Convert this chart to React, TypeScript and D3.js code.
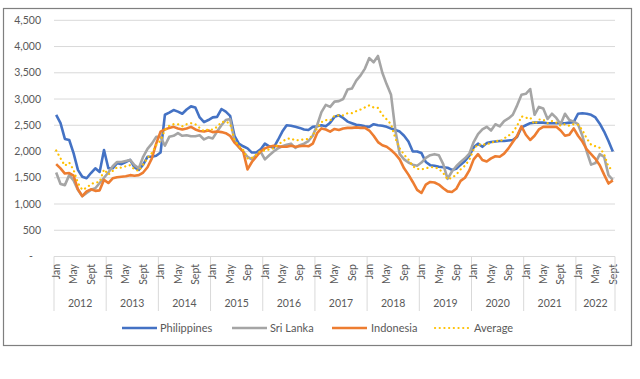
import React from "react";
import * as d3 from "d3";

const years = [2012, 2013, 2014, 2015, 2016, 2017, 2018, 2019, 2020, 2021, 2022];
const monthTickLabels: Record<number, string[]> = {
  2012: ["Jan", "May", "Sept"], 2013: ["Jan", "May", "Sept"], 2014: ["Jan", "May", "Sept"],
  2015: ["Jan", "May", "Sep"], 2016: ["Jan", "May", "Sep"], 2017: ["Jan", "May", "Sep"],
  2018: ["Jan", "May", "Sep"], 2019: ["Jan", "May", "Sep"], 2020: ["Jan", "May", "Sep"],
  2021: ["Jan", "May", "Sept"], 2022: ["Jan", "May", "Sept"],
};
const yTicks = [0, 500, 1000, 1500, 2000, 2500, 3000, 3500, 4000, 4500];

const philippines = [
  2700, 2540, 2240, 2220, 1970, 1650, 1520, 1490, 1590, 1680, 1610, 2030,
  1680, 1680, 1780, 1760, 1800, 1840, 1700, 1650, 1750, 1900, 1900, 1920,
  1980, 2700, 2740, 2790, 2760, 2720, 2800, 2860, 2840, 2650, 2560, 2600,
  2650, 2660, 2810, 2760, 2680, 2300, 2150, 2100, 2060, 1980, 1980, 2040,
  2150, 2100, 2070, 2220, 2380, 2500, 2490, 2470, 2450, 2420, 2410, 2470,
  2480, 2500, 2480, 2550, 2660, 2690, 2640, 2570, 2540, 2510, 2500, 2480,
  2470, 2520, 2500, 2490, 2470, 2440, 2410, 2380, 2300, 2190, 2000, 2000,
  1970, 1800, 1740, 1730, 1710, 1700, 1690, 1650, 1670, 1750, 1820, 1920,
  2080, 2150, 2090, 2160, 2180, 2190, 2200, 2200, 2210, 2220, 2280, 2460,
  2500, 2540, 2550, 2550, 2550, 2540, 2540, 2540, 2540, 2540, 2550, 2560,
  2720, 2730, 2720, 2700, 2650, 2530, 2380, 2200, 2000,
];
const sriLanka = [
  1600, 1380, 1360, 1550, 1450, 1270, 1150, 1210, 1270, 1300, 1400, 1500,
  1600, 1720, 1800, 1800, 1820, 1840, 1740, 1680, 1900, 2050, 2150, 2280,
  2280, 2110, 2280, 2300, 2350, 2300, 2310, 2290, 2290, 2310, 2230, 2270,
  2250, 2380, 2500, 2600, 2620, 2200, 2080, 2000, 1900, 1850, 1930, 2000,
  1850, 1930, 2000, 2060, 2100, 2130, 2150, 2070, 2120, 2150, 2200, 2300,
  2500, 2750, 2890, 2850, 2950, 2960, 3000, 3180, 3200, 3350, 3450, 3580,
  3780, 3700, 3820, 3500, 3280, 3080, 2400, 1950, 1850, 1790, 1750, 1730,
  1790, 1880, 1930, 1950, 1930, 1760, 1480, 1620, 1720, 1800, 1870, 1960,
  2180, 2330, 2420, 2470, 2400, 2520, 2480, 2580, 2630, 2700, 2880, 3080,
  3100, 3190, 2700, 2850, 2820, 2620, 2720, 2640, 2520, 2720, 2600, 2570,
  2520, 2300, 2000, 1750, 1780, 1950, 1900, 1550, 1460,
];
const indonesia = [
  1760, 1680, 1580, 1590, 1540, 1280, 1150, 1240, 1280, 1250, 1260, 1460,
  1400, 1490, 1510, 1520, 1530, 1550, 1540, 1550, 1600, 1700, 1870, 2150,
  2380, 2420, 2450, 2470, 2440, 2420, 2440, 2470, 2420, 2390, 2380, 2400,
  2370, 2380, 2370, 2350, 2300, 2170, 2090, 2000, 1660, 1800, 1900, 2000,
  2060, 2090, 2110, 2100, 2090, 2090, 2110, 2090, 2100, 2110, 2100, 2150,
  2350, 2440, 2420, 2380, 2430, 2410, 2440, 2450, 2450, 2460, 2450, 2450,
  2400, 2300, 2180, 2120, 2090, 2030, 1950, 1850, 1680, 1560, 1420, 1270,
  1210, 1370, 1420, 1410, 1370, 1300, 1240, 1230, 1290, 1440, 1500, 1640,
  1850, 1950, 1840, 1810, 1870, 1910, 1900, 1960, 2060, 2180, 2300, 2480,
  2320, 2220, 2300, 2420, 2470, 2470, 2470, 2470, 2400, 2300, 2320, 2440,
  2300, 2190, 2040, 1950, 1860, 1740, 1560, 1390, 1450,
];
const average = [
  2020, 1870, 1730, 1790, 1650, 1400, 1270, 1310, 1380, 1410, 1420, 1660,
  1560, 1630, 1700, 1690, 1720, 1740, 1660, 1630, 1750, 1880, 1970, 2120,
  2210, 2410, 2490, 2520, 2520, 2480, 2520, 2540, 2520, 2450, 2390, 2420,
  2420, 2470, 2560, 2570, 2530, 2220, 2110, 2030, 1870, 1880, 1940, 2010,
  2020, 2040, 2060, 2130, 2190, 2240, 2250, 2210, 2220, 2230, 2240, 2310,
  2440, 2560, 2600, 2590, 2680, 2690, 2690, 2730, 2730, 2770, 2800, 2840,
  2880, 2840, 2830, 2700, 2610, 2520, 2250, 2060, 1940, 1850, 1720, 1670,
  1660, 1680, 1700, 1700, 1670, 1590, 1470, 1500, 1560, 1660, 1730, 1840,
  2040, 2140, 2120, 2150, 2150, 2210, 2190, 2250, 2300, 2370, 2490, 2670,
  2640, 2650, 2520, 2610, 2610, 2540, 2580, 2550, 2490, 2520, 2490, 2520,
  2510, 2410, 2250, 2130, 2100, 2070, 1950, 1710, 1640,
];

const seriesNames = ["Philippines", "Sri Lanka", "Indonesia", "Average"];
const seriesData = [philippines, sriLanka, indonesia, average];
const seriesColors = ["#4472C4", "#A5A5A5", "#ED7D31", "#FFC000"];

const FONT = "Lato, 'Open Sans', sans-serif";
const TXT = "#595959";

export default function App() {
  const W = 640, H = 379;
  const left = 54, right = 615, y0 = 256.5, yTop = 20.3;
  const n = philippines.length;
  const y = d3.scaleLinear().domain([0, 4500]).range([y0, yTop]);
  const x = d3.scaleBand<number>().domain(d3.range(n)).range([left, right]).padding(0);
  const bw = x.bandwidth();
  const cx = (i: number) => (x(i) as number) + bw / 2;
  const line = d3.line<number>().x((_, i) => cx(i)).y((d) => y(d));
  const fmt = d3.format(",");

  const legendItems = [
    { x: 122, tx: 160 },
    { x: 232, tx: 270 },
    { x: 332, tx: 371 },
    { x: 435, tx: 474 },
  ];

  return (
    <svg width={W} height={H} style={{ position: "absolute", left: 0, top: 0, background: "#fff" }} fontFamily={FONT}>
      <rect x={3.5} y={8.5} width={628} height={337} fill="#fff" stroke="#7f7f7f" strokeWidth={1.2} />
      {yTicks.map((t) => (
        <g key={t}>
          <line x1={left} x2={right} y1={y(t)} y2={y(t)} stroke="#d9d9d9" strokeWidth={1} />
          <text x={t === 0 ? 33 : 41} y={y(t)} dy="0.35em" textAnchor="end" fontSize={10.5} fill={TXT}>
            {t === 0 ? "-" : fmt(t)}
          </text>
        </g>
      ))}
      {years.map((yr, k) => {
        const start = k * 12;
        const count = Math.min(12, n - start);
        const xs = x(start) as number;
        const labels = monthTickLabels[yr];
        return (
          <g key={yr}>
            <line x1={xs} x2={xs} y1={y0} y2={311} stroke="#d9d9d9" strokeWidth={1} />
            {labels.map((lab, j) => {
              const idx = start + j * 4;
              if (idx >= n) return null;
              const px = cx(idx);
              return (
                <text key={lab + j} transform={`translate(${px},264) rotate(-90)`} textAnchor="end" dy="0.35em" fontSize={10.5} fill={TXT}>
                  {lab}
                </text>
              );
            })}
            <text x={xs + (count * bw) / 2} y={303} dy="0.35em" textAnchor="middle" fontSize={10.5} fill={TXT}>
              {yr}
            </text>
          </g>
        );
      })}
      <line x1={right} x2={right} y1={y0} y2={311} stroke="#d9d9d9" strokeWidth={1} />
      {seriesData.map((d, s) => (
        <path
          key={seriesNames[s]}
          d={line(d) || ""}
          fill="none"
          stroke={seriesColors[s]}
          strokeWidth={s === 3 ? 2.2 : 2.6}
          strokeLinejoin="round"
          strokeLinecap={s === 3 ? "round" : "butt"}
          strokeDasharray={s === 3 ? "0.1,4.6" : undefined}
        />
      ))}
      {legendItems.map((it, s) => (
        <g key={seriesNames[s]}>
          <line
            x1={it.x}
            x2={it.x + 35}
            y1={328}
            y2={328}
            stroke={seriesColors[s]}
            strokeWidth={s === 3 ? 2.2 : 2.6}
            strokeLinecap={s === 3 ? "round" : "butt"}
            strokeDasharray={s === 3 ? "0.1,4.6" : undefined}
          />
          <text x={it.tx} y={328} dy="0.35em" fontSize={11} fill={TXT}>
            {seriesNames[s]}
          </text>
        </g>
      ))}
    </svg>
  );
}
